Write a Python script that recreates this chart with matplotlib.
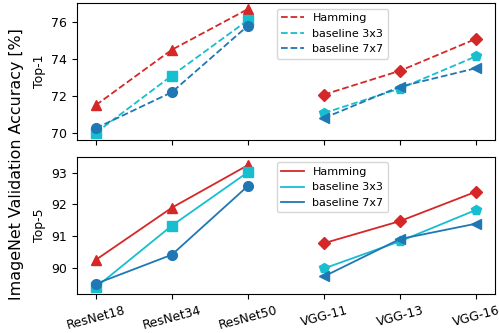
import matplotlib
matplotlib.use("Agg")
import matplotlib.pyplot as plt

models = ["ResNet18", "ResNet34", "ResNet50", "VGG-11", "VGG-13", "VGG-16"]
series = ["Hamming", "baseline 3x3", "baseline 7x7"]

top1_hamming = [71.5, 74.5, 76.7, 72.07, 73.36, 75.09]
top1_b3 = [70.0, 73.1, 76.1, 71.07, 72.4, 74.14]
top1_b7 = [70.25, 72.2, 75.8, 70.8, 72.5, 73.5]

top5_hamming = [90.27, 91.9, 93.23, 90.79, 91.48, 92.4]
top5_b3 = [89.41, 91.34, 93.01, 90.0, 90.85, 91.83]
top5_b7 = [89.52, 90.43, 92.58, 89.75, 90.92, 91.4]

colors = ["#d62728", "#17becf", "#1f77b4"]
res_markers = ["^", "s", "o"]
vgg_markers = ["D", "p", "<"]
vgg_ms = [6, 7, 7]

fig = plt.figure(figsize=(4.99, 3.33), dpi=100)
ax1 = fig.add_axes([0.154, 0.580, 0.838, 0.411])
ax2 = fig.add_axes([0.154, 0.117, 0.838, 0.412])

x = list(range(len(models)))

def draw(ax, data, ls):
    for vals, c, mr, mv, msv in zip(data, colors, res_markers, vgg_markers, vgg_ms):
        ax.plot(x[:3], vals[:3], color=c, ls=ls, marker=mr, ms=7, lw=1.3)
        ax.plot(x[3:], vals[3:], color=c, ls=ls, marker=mv, ms=msv, lw=1.3)
    lh = [plt.Line2D([], [], color=c, ls=ls, lw=1.3) for c in colors]
    ax.legend(lh, series, loc="upper left", bbox_to_anchor=(0.465, 1.0), fontsize=8,
              handlelength=2.0)

draw(ax1, [top1_hamming, top1_b3, top1_b7], "--")
draw(ax2, [top5_hamming, top5_b3, top5_b7], "-")

ax1.set_ylim(69.62, 77.03)
ax1.set_yticks([70, 72, 74, 76])
ax1.set_xticks(x)
ax1.set_xticklabels([])
ax1.set_ylabel("Top-1", fontsize=9)

ax2.set_ylim(89.2, 93.49)
ax2.set_yticks([90, 91, 92, 93])
ax2.set_xticks(x)
ax2.set_xticklabels(models, rotation=15, fontsize=9)
ax2.set_ylabel("Top-5", fontsize=9)

for ax in (ax1, ax2):
    ax.tick_params(axis="y", labelsize=9)

fig.text(0.034, 0.507, "ImageNet Validation Accuracy [%]", rotation=90, va="center",
         ha="center", fontsize=11.4)

fig.savefig("out.png", dpi=100)
